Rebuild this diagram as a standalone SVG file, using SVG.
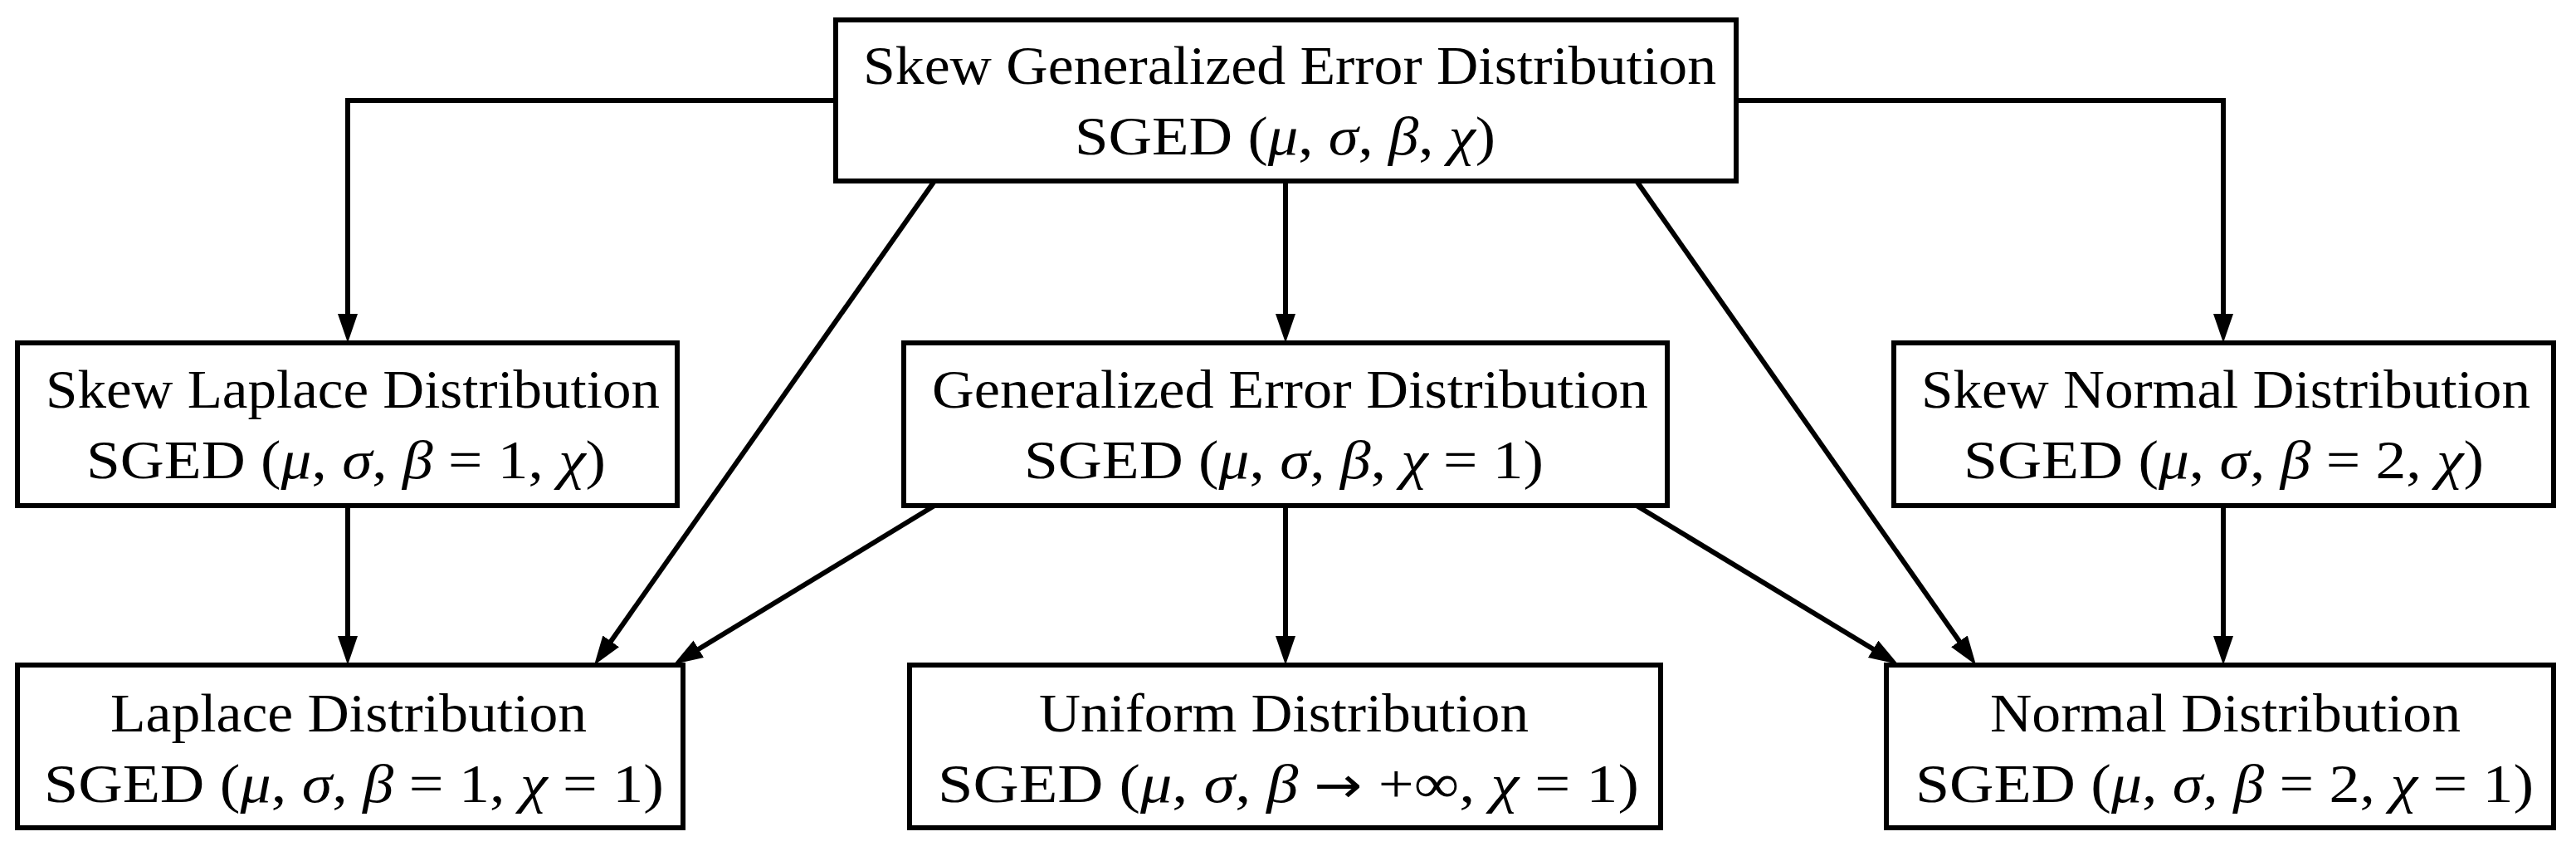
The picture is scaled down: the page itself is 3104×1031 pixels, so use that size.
<svg xmlns="http://www.w3.org/2000/svg" width="3104" height="1031" viewBox="0 0 3104 1031">
<style>
.box{fill:#fff;stroke:#000;stroke-width:6}
.t{font-family:"Liberation Serif","DejaVu Serif",serif;font-size:66px;fill:#000}
.i{font-style:italic}
.a{font-family:"DejaVu Sans",sans-serif;font-size:60px}
.c{fill:none;stroke:#000;stroke-width:6}
</style>
<defs>
<marker id="ah" markerUnits="userSpaceOnUse" markerWidth="36" markerHeight="26" refX="25" refY="12" orient="auto">
<path d="M0,0 L35,12 L0,24 Z" fill="#000"/>
</marker>
</defs>
<rect width="3104" height="1031" fill="#fff"/>
<g id="connectors">
<path class="c" d="M1007,121 H419 V403" marker-end="url(#ah)"/>
<path class="c" d="M2092,121 H2679 V403" marker-end="url(#ah)"/>
<path class="c" d="M1549,218 V403" marker-end="url(#ah)"/>
<path class="c" d="M1126,218 L721.8,792.8" marker-end="url(#ah)"/>
<path class="c" d="M1972,218 L2375.3,792.8" marker-end="url(#ah)"/>
<path class="c" d="M419,609 V791" marker-end="url(#ah)"/>
<path class="c" d="M1126,609 L820.5,794.8" marker-end="url(#ah)"/>
<path class="c" d="M1549,609 V791" marker-end="url(#ah)"/>
<path class="c" d="M1972,609 L2278.5,794.8" marker-end="url(#ah)"/>
<path class="c" d="M2679,609 V791" marker-end="url(#ah)"/>
</g>
<g id="sged">
<rect class="box" x="1007" y="24" width="1085" height="194"/>
<text class="t" x="1040" y="101" textLength="1028" lengthAdjust="spacingAndGlyphs">Skew Generalized Error Distribution</text>
<text class="t" x="1295" y="186" textLength="507" lengthAdjust="spacingAndGlyphs">SGED (<tspan class="i">μ</tspan>, <tspan class="i">σ</tspan>, <tspan class="i">β</tspan>, <tspan class="i">χ</tspan>)</text>
</g>
<g id="skew-laplace">
<rect class="box" x="21" y="413" width="795" height="196"/>
<text class="t" x="55" y="491" textLength="740" lengthAdjust="spacingAndGlyphs">Skew Laplace Distribution</text>
<text class="t" x="104" y="576" textLength="626" lengthAdjust="spacingAndGlyphs">SGED (<tspan class="i">μ</tspan>, <tspan class="i">σ</tspan>, <tspan class="i">β</tspan> = 1, <tspan class="i">χ</tspan>)</text>
</g>
<g id="ged">
<rect class="box" x="1089" y="413" width="920" height="196"/>
<text class="t" x="1123" y="491" textLength="863" lengthAdjust="spacingAndGlyphs">Generalized Error Distribution</text>
<text class="t" x="1234" y="576" textLength="626" lengthAdjust="spacingAndGlyphs">SGED (<tspan class="i">μ</tspan>, <tspan class="i">σ</tspan>, <tspan class="i">β</tspan>, <tspan class="i">χ</tspan> = 1)</text>
</g>
<g id="skew-normal">
<rect class="box" x="2282" y="413" width="795" height="196"/>
<text class="t" x="2315" y="491" textLength="734" lengthAdjust="spacingAndGlyphs">Skew Normal Distribution</text>
<text class="t" x="2366" y="576" textLength="627" lengthAdjust="spacingAndGlyphs">SGED (<tspan class="i">μ</tspan>, <tspan class="i">σ</tspan>, <tspan class="i">β</tspan> = 2, <tspan class="i">χ</tspan>)</text>
</g>
<g id="laplace">
<rect class="box" x="21" y="801" width="802" height="196"/>
<text class="t" x="133" y="881" textLength="574" lengthAdjust="spacingAndGlyphs">Laplace Distribution</text>
<text class="t" x="53" y="966" textLength="747" lengthAdjust="spacingAndGlyphs">SGED (<tspan class="i">μ</tspan>, <tspan class="i">σ</tspan>, <tspan class="i">β</tspan> = 1, <tspan class="i">χ</tspan> = 1)</text>
</g>
<g id="uniform">
<rect class="box" x="1096" y="801" width="905" height="196"/>
<text class="t" x="1252" y="881" textLength="590" lengthAdjust="spacingAndGlyphs">Uniform Distribution</text>
<text class="t" x="1130" y="966" textLength="845" lengthAdjust="spacingAndGlyphs">SGED (<tspan class="i">μ</tspan>, <tspan class="i">σ</tspan>, <tspan class="i">β</tspan> <tspan class="a">→</tspan> +∞, <tspan class="i">χ</tspan> = 1)</text>
</g>
<g id="normal">
<rect class="box" x="2273" y="801" width="804" height="196"/>
<text class="t" x="2398" y="881" textLength="567" lengthAdjust="spacingAndGlyphs">Normal Distribution</text>
<text class="t" x="2308" y="966" textLength="745" lengthAdjust="spacingAndGlyphs">SGED (<tspan class="i">μ</tspan>, <tspan class="i">σ</tspan>, <tspan class="i">β</tspan> = 2, <tspan class="i">χ</tspan> = 1)</text>
</g>
</svg>
